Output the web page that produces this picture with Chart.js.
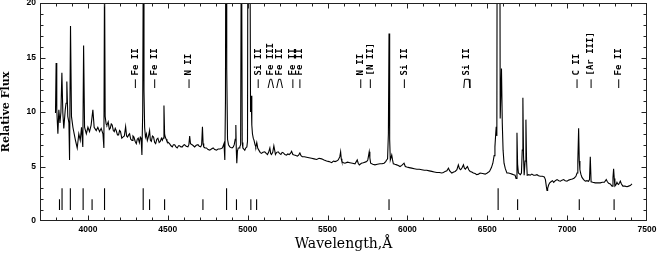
<!DOCTYPE html>
<html>
<head>
<meta charset="utf-8">
<script src="https://cdn.jsdelivr.net/npm/chart.js@4.4.1/dist/chart.umd.min.js"></script>
<style>
html, body { margin: 0; padding: 0; background: #fff; }
#wrap { width: 658px; height: 253px; }
</style>
</head>
<body>
<div id="wrap"><canvas id="spectrumChart" width="658" height="253"></canvas></div>
<script>
// spectrum (wavelength in A, relative flux)
const wavelength = [
    3797, 3801, 3805, 3812, 3818, 3825, 3831, 3837, 3843, 3849, 3858, 3863, 3868, 3874, 3881, 3885, 3891, 3897,
    3906, 3914, 3922, 3933, 3943, 3952, 3960, 3968, 3973, 3979, 3990, 4000, 4010, 4020, 4031, 4039, 4052, 4062,
    4073, 4083, 4094, 4100, 4104, 4108, 4114, 4119, 4127, 4134, 4140, 4146, 4152, 4159, 4165, 4171, 4177, 4185,
    4192, 4198, 4204, 4212, 4219, 4228, 4236, 4242, 4248, 4255, 4261, 4268, 4276, 4282, 4288, 4296, 4303, 4309,
    4315, 4322, 4328, 4333, 4338, 4343, 4347, 4351, 4355, 4360, 4366, 4372, 4378, 4386, 4391, 4397, 4404, 4411,
    4418, 4424, 4431, 4438, 4446, 4453, 4460, 4466, 4471, 4476, 4480, 4484, 4490, 4495, 4503, 4511, 4520, 4528,
    4535, 4543, 4551, 4559, 4567, 4574, 4582, 4591, 4598, 4605, 4615, 4626, 4632, 4637, 4642, 4652, 4660, 4668,
    4678, 4689, 4697, 4706, 4712, 4717, 4721, 4725, 4733, 4742, 4752, 4763, 4773, 4784, 4794, 4805, 4815, 4826,
    4835, 4842, 4852, 4857, 4861, 4865, 4869, 4874, 4880, 4888, 4895, 4903, 4910, 4916, 4922, 4926, 4929, 4932,
    4936, 4941, 4946, 4951, 4956, 4961, 4966, 4970, 4976, 4982, 4988, 4995, 4999, 5003, 5012, 5018, 5022, 5026,
    5030, 5035, 5040, 5046, 5051, 5057, 5063, 5070, 5078, 5086, 5096, 5107, 5116, 5124, 5131, 5139, 5144, 5149,
    5157, 5164, 5169, 5174, 5182, 5191, 5199, 5208, 5216, 5224, 5233, 5243, 5251, 5260, 5268, 5275, 5283, 5292,
    5302, 5311, 5319, 5327, 5334, 5342, 5355, 5369, 5384, 5400, 5416, 5432, 5447, 5463, 5478, 5494, 5510, 5526,
    5537, 5547, 5557, 5567, 5577, 5582, 5586, 5590, 5600, 5609, 5625, 5640, 5656, 5672, 5686, 5692, 5699, 5712,
    5724, 5735, 5745, 5752, 5757, 5761, 5765, 5770, 5783, 5797, 5812, 5828, 5841, 5854, 5864, 5870, 5876, 5881,
    5885, 5889, 5893, 5902, 5907, 5912, 5922, 5933, 5943, 5954, 5965, 5979, 5987, 5996, 6011, 6027, 6043, 6059,
    6075, 6090, 6106, 6121, 6137, 6153, 6168, 6184, 6200, 6215, 6226, 6236, 6247, 6257, 6265, 6278, 6290, 6299,
    6310, 6319, 6326, 6334, 6343, 6351, 6357, 6363, 6370, 6376, 6384, 6393, 6403, 6413, 6424, 6434, 6445, 6455,
    6471, 6487, 6500, 6514, 6526, 6535, 6543, 6548, 6553, 6556, 6560, 6566, 6574, 6581, 6589, 6594, 6599, 6605,
    6613, 6623, 6633, 6644, 6655, 6665, 6674, 6680, 6686, 6690, 6695, 6707, 6714, 6719, 6723, 6727, 6731, 6737,
    6742, 6746, 6750, 6760, 6769, 6779, 6790, 6800, 6811, 6821, 6832, 6845, 6857, 6864, 6870, 6874, 6878, 6884,
    6891, 6899, 6908, 6916, 6926, 6937, 6948, 6958, 6968, 6978, 6988, 6999, 7010, 7020, 7033, 7045, 7055, 7062,
    7067, 7072, 7076, 7080, 7086, 7093, 7103, 7114, 7124, 7134, 7140, 7145, 7150, 7160, 7176, 7192, 7208, 7220,
    7233, 7245, 7252, 7260, 7270, 7281, 7287, 7291, 7295, 7299, 7305, 7312, 7317, 7322, 7328, 7333, 7340, 7349,
    7362, 7375, 7385, 7395, 7406
];
const flux = [
    9.9, 14.5, 10.2, 8.0, 10.2, 9.0, 10.0, 13.6, 9.9, 8.5, 10.2, 10.8, 12.8, 9.6, 9.0, 5.6, 17.9, 9.6,
    8.6, 8.0, 7.4, 6.7, 8.0, 7.4, 8.6, 6.8, 16.1, 8.6, 8.0, 8.6, 8.2, 8.8, 10.2, 8.6, 8.3, 8.6,
    8.2, 8.5, 8.0, 6.7, 23, 9.6, 8.9, 8.8, 9.1, 8.4, 8.5, 8.9, 8.8, 8.3, 8.2, 8.5, 8.3, 7.9,
    7.9, 8.3, 8.2, 7.6, 7.7, 7.8, 8.65, 7.8, 7.7, 7.9, 8.0, 7.5, 7.4, 7.8, 7.7, 7.3, 7.1, 7.5,
    7.6, 7.2, 7.7, 7.6, 6.05, 10, 26, 12, 8.6, 7.7, 8.0, 7.4, 7.7, 8.3, 7.4, 7.3, 7.8, 7.7,
    7.2, 7.1, 7.5, 7.6, 7.2, 7.3, 7.6, 7.4, 7.6, 10.6, 8.0, 7.7, 7.5, 7.3, 7.2, 7.1, 6.9, 6.8,
    7.0, 7.0, 6.8, 6.7, 6.9, 6.9, 6.8, 6.8, 6.95, 7.0, 6.85, 6.8, 7.0, 7.8, 7.1, 7.0, 6.9, 6.8,
    6.95, 7.0, 6.85, 6.8, 7.0, 8.65, 7.1, 6.8, 6.7, 6.7, 6.55, 6.5, 6.6, 6.7, 6.55, 6.5, 6.6, 6.6,
    6.65, 6.7, 7.1, 5.6, 11, 40, 14, 7.5, 7.0, 6.8, 6.75, 6.7, 6.8, 7.0, 7.5, 8.8, 6.5, 5.3,
    6.4, 6.7, 6.7, 6.8, 7.0, 30, 7.2, 6.7, 6.6, 6.5, 6.7, 6.8, 7.3, 40, 38, 10, 11.5, 8.8,
    8.0, 7.6, 7.4, 7.0, 6.8, 7.2, 6.7, 6.5, 6.3, 6.2, 6.3, 6.35, 6.2, 6.1, 6.3, 6.7, 6.2, 6.1,
    6.3, 6.9, 6.5, 6.1, 6.3, 6.35, 6.2, 6.1, 6.3, 6.25, 6.1, 6.05, 6.15, 6.1, 6.2, 6.4, 6.1, 6.05,
    6.0, 5.95, 6.05, 6.25, 6.0, 5.9, 5.9, 5.85, 5.8, 5.75, 5.7, 5.65, 5.75, 5.7, 5.6, 5.5, 5.45, 5.35,
    5.5, 5.45, 5.5, 5.6, 5.9, 6.35, 5.7, 5.45, 5.35, 5.3, 5.4, 5.35, 5.3, 5.25, 5.6, 5.3, 5.15, 5.3,
    5.35, 5.4, 5.45, 5.6, 6.0, 6.35, 5.8, 5.3, 5.2, 5.15, 5.2, 5.25, 5.25, 5.3, 5.45, 5.6, 5.7, 8.0,
    17.2, 7.5, 5.6, 6.05, 5.6, 5.25, 5.2, 5.15, 5.1, 5.0, 5.1, 5.3, 5.0, 4.95, 4.9, 4.85, 4.8, 4.75,
    4.75, 4.7, 4.65, 4.65, 4.6, 4.55, 4.5, 4.45, 4.45, 4.4, 4.45, 4.55, 4.6, 4.85, 4.6, 4.4, 4.5, 4.55,
    4.7, 5.15, 4.8, 4.7, 4.9, 5.15, 4.85, 4.75, 4.9, 5.0, 4.7, 4.55, 4.5, 4.4, 4.35, 4.25, 4.3, 4.4,
    4.35, 4.3, 4.4, 4.55, 4.9, 5.3, 6.0, 6.8, 8.0, 8.65, 7.8, 70, 70, 9.4, 14.0, 9.0, 6.5, 5.3,
    4.8, 4.4, 4.4, 4.35, 4.3, 4.25, 4.2, 3.9, 8.1, 5.2, 4.4, 4.25, 4.4, 6.5, 11.3, 6.0, 4.2, 5.5,
    9.3, 5.5, 4.2, 4.25, 4.2, 4.3, 4.2, 4.2, 4.25, 4.15, 4.1, 4.1, 4.05, 3.8, 3.15, 2.8, 3.0, 3.3,
    3.5, 3.6, 3.7, 3.55, 3.7, 3.8, 3.7, 3.65, 3.75, 3.8, 3.7, 3.65, 3.75, 3.8, 3.85, 3.95, 4.1, 4.4,
    5.5, 8.5, 5.5, 4.7, 4.3, 4.0, 3.8, 3.65, 3.7, 3.65, 3.8, 5.9, 3.6, 3.55, 3.5, 3.5, 3.5, 3.55,
    3.55, 3.8, 3.6, 3.45, 3.4, 3.2, 4.0, 4.8, 3.9, 3.2, 3.3, 3.55, 3.4, 3.35, 3.5, 3.65, 3.4, 3.2,
    3.2, 3.15, 3.2, 3.25, 3.4
];

// line identification ticks at the bottom (2 = short, 3 = long)
const markWave = [3822, 3838, 3890, 3970, 4026, 4104, 4346, 4386, 4480, 4720, 4868, 4930, 5020, 5056, 5885, 6568, 6690, 7076, 7294];
const markTop = [2, 3, 3, 3, 2, 3, 3, 2, 2, 2, 3, 2, 2, 2, 2, 3, 2, 2, 2];

// ion labels above the spectrum
const labelNames = ["Fe II", "Fe II", "N II", "Si II", "Fe III", "Fe II", "Fe II", "Fe II", "N II", "[N II]", "Si II", "Si II", "C II", "[Ar III]", "Fe II"];
const labelWave = [4297, 4418, 4633, 5066, 5145, 5201, 5283, 5327, 5708, 5768, 5981, 6372, 7062, 7150, 7323];
const dashWave = [4297, 4418, 4633, 5066, 5283, 5327, 5708, 5768, 5981, 7062, 7150, 7323];
const bracketWave = [[5128, 5140, 5150, 5162], [5182, 5194, 5206, 5218], [6353, 6358, 6386, 6391]];

const xTickLabels = [4000, 4500, 5000, 5500, 6000, 6500, 7000, 7500];
const yTickLabels = [0, 5, 10, 15, 20];

function segments(xs, lows, highs) {
    const pts = [];
    xs.forEach((w, i) => {
        pts.push({ x: w, y: lows[i] }, { x: w, y: highs[i] }, { x: w, y: null });
    });
    return pts;
}

function bracketPoints() {
    const pts = [];
    bracketWave.forEach(b => {
        pts.push({ x: b[0], y: 12.2 }, { x: b[1], y: 13.0 }, { x: b[2], y: 13.0 }, { x: b[3], y: 12.2 }, { x: b[3], y: null });
    });
    return pts;
}

const framePlugin = {
    id: "frameTicks",
    afterDraw(chart) {
        const { ctx, chartArea: a, scales: { x, y } } = chart;
        const L = Math.round(a.left) + 0.5, R = Math.round(a.right) - 0.5;
        const T = Math.round(a.top) + 0.5, B = Math.round(a.bottom) - 0.5;
        ctx.save();
        ctx.strokeStyle = "#222";
        ctx.lineWidth = 1;
        ctx.strokeRect(L, T, R - L, B - T);
        ctx.beginPath();
        for (let w = 3800; w < 7500; w += 100) {
            const px = Math.round(x.getPixelForValue(w)) + 0.5;
            const len = w % 500 === 0 ? 5 : 3;
            ctx.moveTo(px, B); ctx.lineTo(px, B - len);
            ctx.moveTo(px, T); ctx.lineTo(px, T + len);
        }
        for (let f = 1; f < 20; f++) {
            const py = Math.round(y.getPixelForValue(f)) + 0.5;
            const len = f % 5 === 0 ? 5 : 3;
            ctx.moveTo(L, py); ctx.lineTo(L + len, py);
            ctx.moveTo(R, py); ctx.lineTo(R - len, py);
        }
        ctx.stroke();
        ctx.restore();
    }
};

const labelPlugin = {
    id: "ionLabels",
    afterDatasetsDraw(chart) {
        const { ctx, scales: { x, y } } = chart;
        ctx.save();
        ctx.fillStyle = "#000";
        ctx.font = "bold 9px 'DejaVu Sans Mono'";
        ctx.textAlign = "left";
        ctx.textBaseline = "middle";
        labelNames.forEach((name, i) => {
            ctx.save();
            ctx.translate(x.getPixelForValue(labelWave[i]), y.getPixelForValue(13.35));
            ctx.rotate(-Math.PI / 2);
            ctx.fillText(name, 0, 0);
            ctx.restore();
        });
        ctx.restore();
    }
};

const tickFont = { family: "'Liberation Sans', Arial, sans-serif", weight: "bold", size: 8.5 };

new Chart(document.getElementById("spectrumChart"), {
    type: "line",
    data: {
        datasets: [
            {
                data: wavelength.map((w, i) => ({ x: w, y: flux[i] })),
                borderColor: "#000",
                borderWidth: 1.1,
                pointRadius: 0,
                tension: 0
            },
            {
                data: segments(markWave, markWave.map(() => 1), markTop),
                borderColor: "#000",
                borderWidth: 1.1,
                pointRadius: 0,
                spanGaps: false
            },
            {
                data: segments(dashWave, dashWave.map(() => 12.2), dashWave.map(() => 13.0)),
                borderColor: "#000",
                borderWidth: 1,
                pointRadius: 0,
                spanGaps: false
            },
            {
                data: bracketPoints(),
                borderColor: "#000",
                borderWidth: 1,
                pointRadius: 0,
                spanGaps: false
            }
        ]
    },
    options: {
        responsive: false,
        animation: false,
        devicePixelRatio: 1,
        layout: { padding: { top: 3, right: 11, left: 0, bottom: 0 } },
        plugins: { legend: { display: false }, tooltip: { enabled: false } },
        scales: {
            x: {
                type: "linear",
                min: 3700,
                max: 7500,
                afterBuildTicks: scale => { scale.ticks = xTickLabels.map(v => ({ value: v })); },
                afterFit: scale => { scale.height = 32; scale.paddingLeft = 0; scale.paddingRight = 0; },
                grid: { display: false, drawTicks: false },
                border: { display: false },
                ticks: { font: tickFont, color: "#000", padding: 4, maxRotation: 0, autoSkip: false, callback: v => String(v) },
                title: {
                    display: true,
                    text: "Wavelength,Å",
                    color: "#000",
                    font: { family: "'DejaVu Serif', serif", size: 14 },
                    padding: 0
                }
            },
            y: {
                min: 0,
                max: 20,
                afterBuildTicks: scale => { scale.ticks = yTickLabels.map(v => ({ value: v })); },
                afterFit: scale => { scale.width = 40; scale.paddingTop = 0; scale.paddingBottom = 0; },
                grid: { display: false, drawTicks: false },
                border: { display: false },
                ticks: { font: tickFont, color: "#000", padding: 4, callback: v => String(v) },
                title: {
                    display: true,
                    text: "Relative Flux",
                    color: "#000",
                    font: { family: "'DejaVu Serif', serif", size: 11, weight: "bold" },
                    padding: 0
                }
            }
        }
    },
    plugins: [framePlugin, labelPlugin]
});
</script>
</body>
</html>
